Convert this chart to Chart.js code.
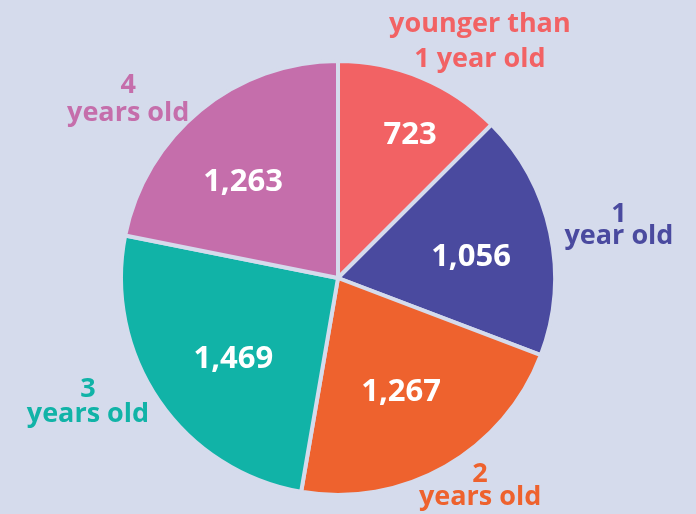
<!DOCTYPE html>
<html><head><meta charset="utf-8">
<script src="https://cdn.jsdelivr.net/npm/chart.js@4/dist/chart.umd.min.js"></script>
<style>html,body{margin:0;padding:0;background:#d5dbec;overflow:hidden}#wrap{width:696px;height:514px;position:relative}</style>
</head><body><div id="wrap"><canvas id="c" width="696" height="514"></canvas></div>
<script>
// ---- data ----
const categories = [["younger than", "1 year old"], ["1", "year old"], ["2", "years old"], ["3", "years old"], ["4", "years old"]];
const values = [723, 1056, 1267, 1469, 1263];
const valueLabels = ["723", "1,056", "1,267", "1,469", "1,263"];

// ---- style / layout ----
const BG = "#d5dbec";
const sliceColors = ["#f26264", "#4a4a9f", "#ee622e", "#11b3a7", "#c56eab"];
// [angle from 12 o'clock in degrees (clockwise), distance as fraction of radius]
const outerLabelPlace = [[30.8, 1.277], [79.0, 1.319], [145.4, 1.153], [244.0, 1.282], [310.8, 1.277]];
const outerLineHeight = [35, 22, 23, 25, 28];
const innerLabelPlace = [[26.4, 0.747], [80.2, 0.622], [150.6, 0.592], [233.0, 0.604], [315.9, 0.629]];
const FONT = "'Open Sans', 'Liberation Sans', sans-serif";

const labelPlugin = {
  id: 'labels',
  afterDatasetsDraw(chart) {
    const ctx = chart.ctx;
    const arc = chart.getDatasetMeta(0).data[0];
    const cx = arc.x, cy = arc.y, R = arc.outerRadius;
    ctx.save();
    ctx.textAlign = 'center';
    ctx.textBaseline = 'middle';
    valueLabels.forEach((t, i) => {
      const [a, f] = innerLabelPlace[i];
      const r = a * Math.PI / 180;
      ctx.fillStyle = '#ffffff';
      ctx.font = "bold 31px " + FONT;
      ctx.fillText(t, cx + f * R * Math.sin(r), cy - f * R * Math.cos(r) + 2);
    });
    categories.forEach((lines, i) => {
      const [a, f] = outerLabelPlace[i];
      const r = a * Math.PI / 180;
      const x = cx + f * R * Math.sin(r), y = cy - f * R * Math.cos(r) + 2;
      ctx.fillStyle = sliceColors[i];
      ctx.font = "bold 27px " + FONT;
      const lh = outerLineHeight[i];
      lines.forEach((ln, k) => {
        ctx.fillText(ln, x, y + (k - (lines.length - 1) / 2) * lh);
      });
    });
    ctx.restore();
  }
};

const bgPlugin = {
  id: 'bg',
  beforeDraw(chart) {
    const ctx = chart.ctx;
    ctx.save();
    ctx.fillStyle = BG;
    ctx.fillRect(0, 0, chart.width, chart.height);
    ctx.restore();
  }
};

new Chart(document.getElementById('c'), {
  type: 'pie',
  data: {
    labels: categories.map(l => l.join(' ')),
    datasets: [{
      data: values,
      backgroundColor: sliceColors,
      borderColor: BG,
      borderWidth: 4
    }]
  },
  options: {
    responsive: false,
    animation: false,
    devicePixelRatio: 1,
    layout: { padding: { left: 119, right: 139, top: 59, bottom: 17 } },
    plugins: { legend: { display: false }, tooltip: { enabled: false } }
  },
  plugins: [bgPlugin, labelPlugin]
});
</script></body></html>
